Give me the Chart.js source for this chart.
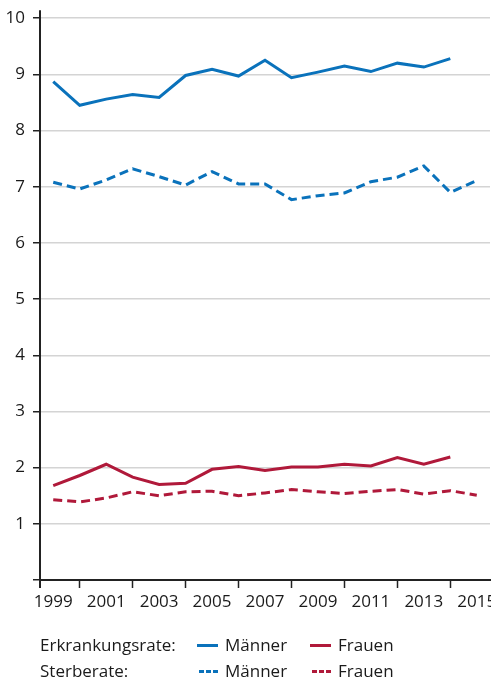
<!DOCTYPE html>
<html lang="de">
<head>
  <meta charset="UTF-8">
  <title>Erkrankungs- und Sterberaten</title>
  <script src="https://cdn.jsdelivr.net/npm/chart.js"></script>
  <style>
    body {
      margin: 0;
      background: #fff;
      font-family: 'Open Sans', sans-serif;
      color: #1a1a1a;
    }
    #wrap {
      position: relative;
      width: 491px;
      height: 684px;
      overflow: hidden;
    }
    #legend {
      position: absolute;
      left: 0;
      top: 0;
      width: 491px;
      height: 684px;
      pointer-events: none;
      font-size: 17px;
    }
    .lg {
      position: absolute;
      line-height: 20px;
      white-space: nowrap;
    }
    .swatch {
      position: absolute;
      width: 21px;
      height: 3px;
    }
  </style>
</head>
<body>
  <div id="wrap">
    <canvas id="chart" width="491" height="620"></canvas>
    <div id="legend"></div>
  </div>

  <script>
    const years = ['1999', '2000', '2001', '2002', '2003', '2004', '2005', '2006', '2007',
                   '2008', '2009', '2010', '2011', '2012', '2013', '2014', '2015'];
    const erkrankMaenner = [8.87, 8.45, 8.56, 8.64, 8.59, 8.98, 9.09, 8.97, 9.25,
                            8.94, 9.04, 9.15, 9.05, 9.20, 9.13, 9.28, null];
    const erkrankFrauen  = [1.68, 1.86, 2.06, 1.83, 1.70, 1.72, 1.97, 2.02, 1.95,
                            2.01, 2.01, 2.06, 2.03, 2.18, 2.06, 2.19, null];
    const sterbeMaenner  = [7.08, 6.96, 7.12, 7.32, 7.18, 7.03, 7.27, 7.05, 7.05,
                            6.77, 6.84, 6.89, 7.09, 7.17, 7.37, 6.90, 7.11];
    const sterbeFrauen   = [1.43, 1.39, 1.46, 1.57, 1.50, 1.57, 1.58, 1.50, 1.55,
                            1.61, 1.57, 1.54, 1.58, 1.61, 1.53, 1.59, 1.51];
    const yTicks = [0, 1, 2, 3, 4, 5, 6, 7, 8, 9, 10];

    const BLUE = '#0a72bb';
    const RED = '#b0193a';
    const AXIS = '#222';
    const FONT = "'Open Sans', sans-serif";

    // y axis line runs a little past the plot at top and bottom
    const axisLine = {
      id: 'axisLine',
      afterDraw(chart) {
        const { ctx, chartArea } = chart;
        ctx.save();
        ctx.strokeStyle = AXIS;
        ctx.lineWidth = 2;
        ctx.beginPath();
        ctx.moveTo(chartArea.left, chartArea.top - 8);
        ctx.lineTo(chartArea.left, chartArea.bottom + 8);
        ctx.stroke();
        ctx.restore();
      }
    };

    function line(label, data, color, dashed) {
      return {
        label: label,
        data: data,
        borderColor: color,
        backgroundColor: color,
        borderWidth: 3,
        borderDash: dashed ? [9, 5] : [],
        pointRadius: 0,
        tension: 0,
        fill: false
      };
    }

    new Chart(document.getElementById('chart'), {
      type: 'line',
      data: {
        labels: years,
        datasets: [
          line('Erkrankungsrate Männer', erkrankMaenner, BLUE, false),
          line('Erkrankungsrate Frauen', erkrankFrauen, RED, false),
          line('Sterberate Männer', sterbeMaenner, BLUE, true),
          line('Sterberate Frauen', sterbeFrauen, RED, true)
        ]
      },
      options: {
        responsive: false,
        animation: false,
        layout: { padding: { top: 18, right: 1, left: 0, bottom: 0 } },
        plugins: {
          legend: { display: false },
          tooltip: { enabled: false }
        },
        scales: {
          x: {
            type: 'category',
            offset: true,
            border: { display: true, color: AXIS, width: 2 },
            grid: {
              drawOnChartArea: false,
              drawTicks: true,
              tickLength: 8,
              tickWidth: 1.5,
              tickColor: ctx => (ctx.index % 2 === 1 ? AXIS : 'rgba(0,0,0,0)')
            },
            ticks: {
              autoSkip: false,
              maxRotation: 0,
              padding: 4,
              color: '#1a1a1a',
              font: { family: FONT, size: 17 },
              callback: (v, i) => (i % 2 === 0 ? years[i] : '')
            },
            afterFit: s => {
              s.height = 40;
              s.paddingLeft = 0;
              s.paddingRight = 0;
            }
          },
          y: {
            min: 0,
            max: 10,
            afterBuildTicks: s => { s.ticks = yTicks.map(v => ({ value: v })); },
            border: { display: false },
            grid: {
              color: ctx => (ctx.tick && ctx.tick.value === 0 ? 'rgba(0,0,0,0)' : '#d4d4d4'),
              lineWidth: 1.5,
              tickLength: 7,
              tickWidth: 1.5,
              tickColor: AXIS
            },
            ticks: {
              padding: 8,
              color: '#1a1a1a',
              font: { family: FONT, size: 17 },
              callback: v => (v === 0 ? '' : v)
            },
            afterFit: s => { s.width = 40; }
          }
        }
      },
      plugins: [axisLine]
    });

    // legend below the plot, two rows
    const legendRows = [
      { title: 'Erkrankungsrate:', y: 635, dashed: false },
      { title: 'Sterberate:', y: 661, dashed: true }
    ];
    const legendItems = [
      { name: 'Männer', color: BLUE, swatchX: 197, textX: 225 },
      { name: 'Frauen', color: RED, swatchX: 310, textX: 338 }
    ];
    const lg = document.getElementById('legend');
    legendRows.forEach(r => {
      const t = document.createElement('div');
      t.className = 'lg';
      t.style.left = '40px';
      t.style.top = r.y + 'px';
      t.textContent = r.title;
      lg.appendChild(t);
      legendItems.forEach(it => {
        const sw = document.createElement('div');
        sw.className = 'swatch';
        sw.style.left = (it.swatchX + (r.dashed ? 2 : 0)) + 'px';
        sw.style.top = (r.y + 9) + 'px';
        sw.style.background = r.dashed
          ? `repeating-linear-gradient(90deg, ${it.color} 0 5px, transparent 5px 7px)`
          : it.color;
        lg.appendChild(sw);
        const n = document.createElement('div');
        n.className = 'lg';
        n.style.left = it.textX + 'px';
        n.style.top = r.y + 'px';
        n.textContent = it.name;
        lg.appendChild(n);
      });
    });
  </script>
</body>
</html>
